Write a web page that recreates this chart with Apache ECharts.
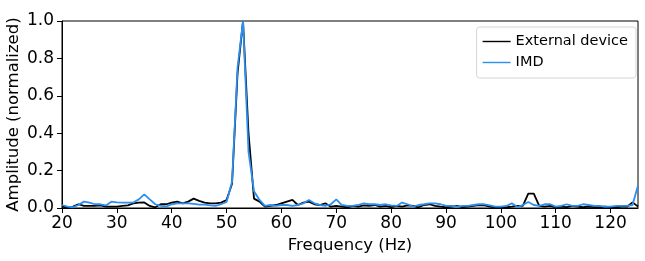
<!DOCTYPE html>
<html>
<head>
<meta charset="utf-8">
<script src="https://cdn.jsdelivr.net/npm/echarts@6/dist/echarts.min.js"></script>
<style>html,body{margin:0;padding:0;background:#fff;}#c{width:645px;height:261px;}</style>
</head>
<body>
<div id="c"></div>
<script>
const freqs = [20,21,22,23,24,25,26,27,28,29,30,31,32,33,34,35,36,37,38,39,40,41,42,43,44,45,46,47,48,49,50,51,52,53,54,55,56,57,58,59,60,61,62,63,64,65,66,67,68,69,70,71,72,73,74,75,76,77,78,79,80,81,82,83,84,85,86,87,88,89,90,91,92,93,94,95,96,97,98,99,100,101,102,103,104,105,106,107,108,109,110,111,112,113,114,115,116,117,118,119,120,121,122,123,124,125];
const externalDevice = [0.007,0.004,0.007,0.02,0.011,0.011,0.011,0.014,0.007,0.007,0.007,0.011,0.014,0.025,0.029,0.03,0.011,0.004,0.02,0.02,0.029,0.034,0.025,0.034,0.05,0.038,0.029,0.025,0.025,0.029,0.043,0.13,0.72,1.0,0.4,0.05,0.034,0.007,0.011,0.016,0.025,0.034,0.043,0.016,0.029,0.034,0.02,0.016,0.025,0.007,0.011,0.007,0.004,0.011,0.007,0.014,0.011,0.016,0.007,0.011,0.005,0.011,0.007,0.014,0.011,0.004,0.016,0.02,0.011,0.007,0.004,0.007,0.011,0.005,0.007,0.011,0.016,0.014,0.007,0.004,0.005,0.004,0.007,0.011,0.011,0.077,0.077,0.011,0.007,0.011,0.004,0.007,0.005,0.011,0.007,0.004,0.007,0.005,0.004,0.007,0.005,0.004,0.007,0.007,0.03,0.008];
const imd = [0.016,0.007,0.004,0.016,0.034,0.029,0.02,0.02,0.014,0.034,0.03,0.029,0.029,0.029,0.046,0.073,0.046,0.02,0.011,0.007,0.02,0.025,0.025,0.025,0.022,0.018,0.018,0.014,0.011,0.02,0.032,0.14,0.75,1.0,0.3,0.09,0.043,0.011,0.016,0.011,0.016,0.016,0.011,0.016,0.025,0.043,0.025,0.016,0.011,0.02,0.046,0.016,0.011,0.011,0.016,0.025,0.02,0.02,0.016,0.02,0.014,0.011,0.029,0.02,0.007,0.016,0.02,0.025,0.025,0.02,0.011,0.011,0.007,0.011,0.011,0.016,0.02,0.02,0.014,0.007,0.007,0.011,0.025,0.005,0.016,0.032,0.016,0.011,0.02,0.02,0.007,0.011,0.02,0.011,0.011,0.02,0.016,0.011,0.011,0.007,0.007,0.011,0.011,0.011,0.016,0.12];

const font = 'DejaVu Sans';
const chart = echarts.init(document.getElementById('c'), null, {renderer: 'canvas'});
chart.setOption({
  animation: false,
  grid: {left: 62, right: 7, top: 21, bottom: 53, show: true, borderColor: '#000', borderWidth: 1,
         containLabel: false, outerBoundsMode: 'none'},
  legend: {
    orient: 'vertical', right: 9, top: 27,
    padding: [7, 8, 8, 6], itemGap: 6,
    itemWidth: 28, itemHeight: 12,
    borderColor: '#d5d5d5', borderWidth: 1, borderRadius: 3,
    textStyle: {fontFamily: font, fontSize: 14.5, color: '#000'},
    data: [{name: 'External device', icon: 'path://M0,5.3H28V6.7H0Z'}, {name: 'IMD', icon: 'path://M0,5.3H28V6.7H0Z'}]
  },
  xAxis: {
    type: 'value', min: 20, max: 125, interval: 10,
    name: 'Frequency (Hz)', nameLocation: 'middle', nameGap: 29, nameMoveOverlap: false,
    nameTextStyle: {fontFamily: font, fontSize: 16.5, color: '#000'},
    axisLine: {show: true, lineStyle: {color: '#000', width: 1}},
    axisTick: {show: true, length: 5, lineStyle: {color: '#000'}},
    axisLabel: {fontFamily: font, fontSize: 17, color: '#000', margin: 7},
    splitLine: {show: false}
  },
  yAxis: {
    type: 'value', min: 0, max: 1, interval: 0.2,
    name: 'Amplitude (normalized)', nameLocation: 'middle', nameGap: 40, nameMoveOverlap: false,
    nameTextStyle: {fontFamily: font, fontSize: 16.5, color: '#000'},
    axisLine: {show: true, lineStyle: {color: '#000', width: 1}},
    axisTick: {show: true, length: 5, lineStyle: {color: '#000'}},
    axisLabel: {fontFamily: font, fontSize: 17, color: '#000', margin: 8, formatter: v => v.toFixed(1)},
    splitLine: {show: false}
  },
  series: [
    {name: 'External device', type: 'line', showSymbol: false, color: '#000',
     lineStyle: {width: 1.8, color: '#000'}, data: freqs.map((f, i) => [f, externalDevice[i]])},
    {name: 'IMD', type: 'line', showSymbol: false, color: '#2b8ff0',
     lineStyle: {width: 1.8, color: '#2b8ff0'}, data: freqs.map((f, i) => [f, imd[i]])}
  ]
});
</script>
</body>
</html>
